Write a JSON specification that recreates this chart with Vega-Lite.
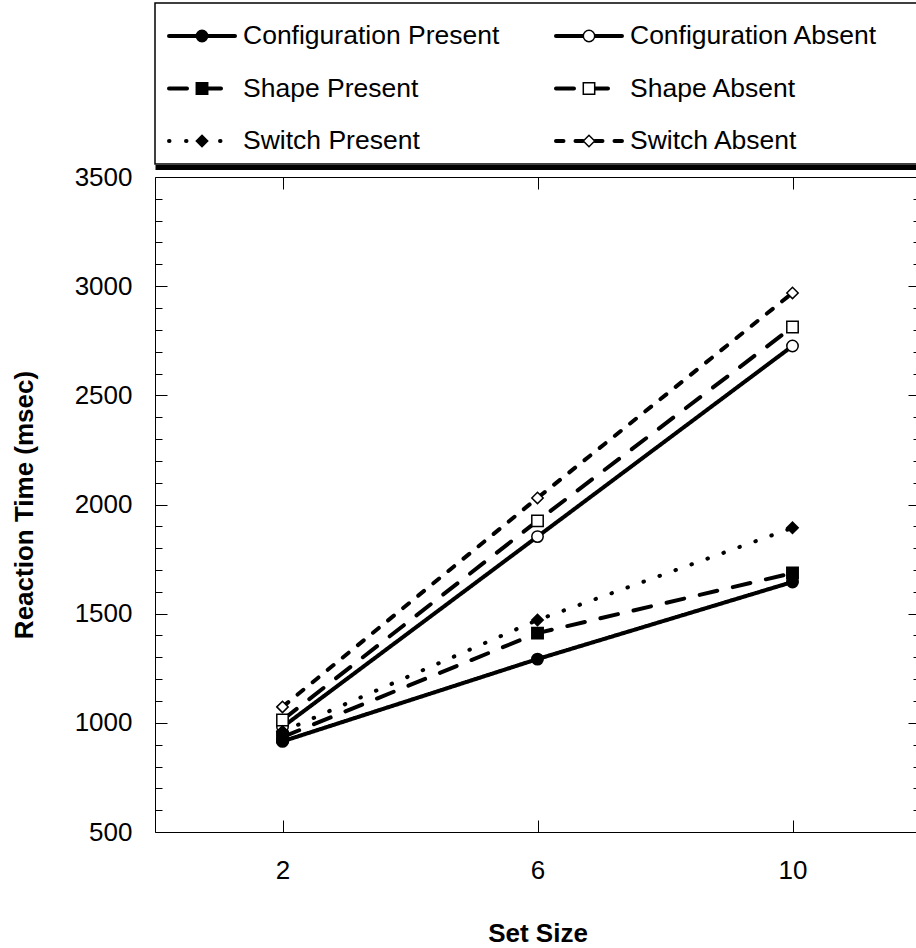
{
  "$schema": "https://vega.github.io/schema/vega-lite/v6.json",
  "padding": {"left": 10, "top": 2, "right": 0, "bottom": 0},
  "background": "white",
  "spacing": -5,
  "config": {
    "font": "Liberation Sans",
    "view": {"stroke": "black", "strokeWidth": 1},
    "axis": {"labelFont": "Liberation Sans", "titleFont": "Liberation Sans", "labelColor": "black", "titleColor": "black"}
  },
  "datasets": {
    "rt": [
      {"series": "Configuration Present", "feature": "Configuration", "presence": "Present", "setSize": 2, "rt": 915},
      {"series": "Configuration Present", "feature": "Configuration", "presence": "Present", "setSize": 6, "rt": 1292},
      {"series": "Configuration Present", "feature": "Configuration", "presence": "Present", "setSize": 10, "rt": 1645},
      {"series": "Configuration Absent", "feature": "Configuration", "presence": "Absent", "setSize": 2, "rt": 981},
      {"series": "Configuration Absent", "feature": "Configuration", "presence": "Absent", "setSize": 6, "rt": 1853},
      {"series": "Configuration Absent", "feature": "Configuration", "presence": "Absent", "setSize": 10, "rt": 2726},
      {"series": "Shape Present", "feature": "Shape", "presence": "Present", "setSize": 2, "rt": 935},
      {"series": "Shape Present", "feature": "Shape", "presence": "Present", "setSize": 6, "rt": 1411},
      {"series": "Shape Present", "feature": "Shape", "presence": "Present", "setSize": 10, "rt": 1686},
      {"series": "Shape Absent", "feature": "Shape", "presence": "Absent", "setSize": 2, "rt": 1013},
      {"series": "Shape Absent", "feature": "Shape", "presence": "Absent", "setSize": 6, "rt": 1925},
      {"series": "Shape Absent", "feature": "Shape", "presence": "Absent", "setSize": 10, "rt": 2813},
      {"series": "Switch Present", "feature": "Switch", "presence": "Present", "setSize": 2, "rt": 960},
      {"series": "Switch Present", "feature": "Switch", "presence": "Present", "setSize": 6, "rt": 1471},
      {"series": "Switch Present", "feature": "Switch", "presence": "Present", "setSize": 10, "rt": 1893},
      {"series": "Switch Absent", "feature": "Switch", "presence": "Absent", "setSize": 2, "rt": 1073},
      {"series": "Switch Absent", "feature": "Switch", "presence": "Absent", "setSize": 6, "rt": 2030},
      {"series": "Switch Absent", "feature": "Switch", "presence": "Absent", "setSize": 10, "rt": 2969}
    ]
  },
  "vconcat": [
    {
      "width": 765,
      "height": 161,
      "data": {"name": "rt"},
      "transform": [{"filter": "datum.setSize === 2"}],
      "view": {"stroke": "black", "strokeWidth": 1.5},
      "encoding": {
        "x": {"field": "presence", "type": "nominal",
          "scale": {"type": "point", "domain": ["Present", "Absent"], "padding": 0.4884},
          "axis": {"title": null, "labels": false, "ticks": false, "grid": false, "domain": true, "domainWidth": 5, "domainColor": "black", "offset": 3}},
        "y": {"field": "feature", "type": "nominal",
          "scale": {"type": "point", "domain": ["Configuration", "Shape", "Switch"], "padding": 0.5333},
          "axis": null}
      },
      "layer": [
        {
          "mark": {"type": "point", "shape": "M-1,0H1", "size": 4356, "filled": false, "stroke": "black", "strokeCap": "round", "xOffset": -142, "yOffset": 5, "opacity": 1},
          "encoding": {
            "strokeDash": {"field": "series", "type": "nominal", "legend": null,
              "scale": {"domain": ["Configuration Present", "Configuration Absent", "Shape Present", "Shape Absent", "Switch Present", "Switch Absent"],
                "range": [[1, 0], [1, 0], [18, 16], [18, 16], [0.5, 16.5], [7.5, 12]]}},
            "strokeWidth": {"field": "series", "type": "ordinal", "legend": null,
              "scale": {"domain": ["Configuration Present", "Configuration Absent", "Shape Present", "Shape Absent", "Switch Present", "Switch Absent"],
                "range": [4, 4, 3.5, 3.5, 3.5, 3.5]}}
          }
        },
        {
          "mark": {"type": "point", "filled": true, "stroke": "black", "strokeWidth": 1.5, "size": 130, "xOffset": -142, "yOffset": 5, "opacity": 1},
          "encoding": {
            "shape": {"field": "series", "type": "nominal", "legend": null,
              "scale": {"domain": ["Configuration Present", "Configuration Absent", "Shape Present", "Shape Absent", "Switch Present", "Switch Absent"],
                "range": ["circle", "circle", "square", "square", "diamond", "diamond"]}},
            "fill": {"field": "series", "type": "nominal", "legend": null,
              "scale": {"domain": ["Configuration Present", "Configuration Absent", "Shape Present", "Shape Absent", "Switch Present", "Switch Absent"],
                "range": ["black", "white", "black", "white", "black", "white"]}}
          }
        },
        {
          "mark": {"type": "text", "align": "left", "baseline": "middle", "fontSize": 26.5, "xOffset": -101, "yOffset": 5, "color": "black", "font": "Liberation Sans"},
          "encoding": {"text": {"field": "series", "type": "nominal"}}
        }
      ]
    },
    {
      "width": 765,
      "height": 655,
      "data": {"name": "rt"},
      "view": {"stroke": "black", "strokeWidth": 1},
      "encoding": {
        "x": {"field": "setSize", "type": "quantitative",
          "scale": {"domain": [0, 12], "nice": false, "zero": false},
          "axis": {"values": [2, 6, 10], "title": "Set Size", "titleFontSize": 26, "titleFontWeight": "bold", "labelFontSize": 26,
            "ticks": false, "domain": false, "grid": true, "gridColor": "black", "gridOpacity": 1, "gridWidth": 1, "gridDash": [12, 631],
            "labelPadding": 25, "titlePadding": 37, "labelFlush": false, "labelOverlap": false}},
        "y": {"field": "rt", "type": "quantitative",
          "scale": {"domain": [500, 3500], "nice": false, "zero": false},
          "axis": {"values": [500, 600, 700, 800, 900, 1000, 1100, 1200, 1300, 1400, 1500, 1600, 1700, 1800, 1900, 2000, 2100, 2200, 2300, 2400, 2500, 2600, 2700, 2800, 2900, 3000, 3100, 3200, 3300, 3400, 3500],
            "format": "d", "labelExpr": "datum.value % 500 === 0 ? datum.label : ''",
            "title": "Reaction Time (msec)", "titleFontSize": 26, "titleFontWeight": "bold", "labelFontSize": 26,
            "ticks": false, "domain": false, "grid": true, "gridColor": "black", "gridOpacity": 1, "gridWidth": 1,
            "gridDash": {"condition": {"test": "datum.value % 500 === 0", "value": [12, 741]}, "value": [7, 751]},
            "labelPadding": 23, "titlePadding": 37, "labelFlush": false, "labelOverlap": false}}
      },
      "layer": [
        {
          "mark": {"type": "line", "color": "black", "strokeCap": "round"},
          "encoding": {
            "strokeDash": {"field": "series", "type": "nominal", "legend": null,
              "scale": {"domain": ["Configuration Present", "Configuration Absent", "Shape Present", "Shape Absent", "Switch Present", "Switch Absent"],
                "range": [[1, 0], [1, 0], [18, 16], [18, 16], [0.5, 16.5], [7.5, 12]]}},
            "strokeWidth": {"field": "series", "type": "ordinal", "legend": null,
              "scale": {"domain": ["Configuration Present", "Configuration Absent", "Shape Present", "Shape Absent", "Switch Present", "Switch Absent"],
                "range": [4.5, 4.5, 3.5, 3.5, 3.5, 3.5]}}
          }
        },
        {
          "mark": {"type": "point", "filled": true, "stroke": "black", "strokeWidth": 1.5, "size": 130, "opacity": 1},
          "encoding": {
            "shape": {"field": "series", "type": "nominal", "legend": null,
              "scale": {"domain": ["Configuration Present", "Configuration Absent", "Shape Present", "Shape Absent", "Switch Present", "Switch Absent"],
                "range": ["circle", "circle", "square", "square", "diamond", "diamond"]}},
            "fill": {"field": "series", "type": "nominal", "legend": null,
              "scale": {"domain": ["Configuration Present", "Configuration Absent", "Shape Present", "Shape Absent", "Switch Present", "Switch Absent"],
                "range": ["black", "white", "black", "white", "black", "white"]}}
          }
        }
      ]
    }
  ]
}
